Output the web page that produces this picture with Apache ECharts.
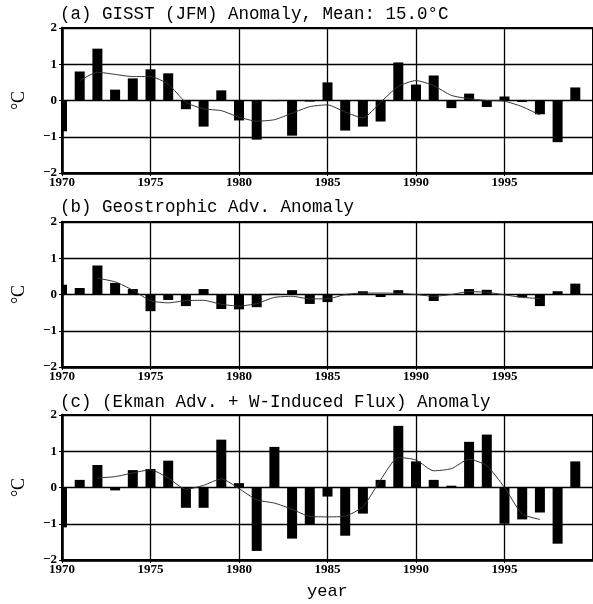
<!DOCTYPE html>
<html>
<head>
<meta charset="utf-8">
<title>anomaly</title>
<script src="https://cdn.jsdelivr.net/npm/echarts@6/dist/echarts.min.js"></script>
<style>
html,body{margin:0;padding:0;background:#fff;}
#container{width:593px;height:604px;}
</style>
</head>
<body>
<div id="container"></div>
<script>
    // years of the bars
    var firstYear = 1970;
    var lastYear = 1999;
    var yTicks = [-2, -1, 0, 1, 2];

    // panel titles
    var titles = [
        '(a) GISST (JFM) Anomaly, Mean: 15.0\u00b0C',
        '(b) Geostrophic Adv. Anomaly',
        '(c) (Ekman Adv. + W-Induced Flux) Anomaly'
    ];

    // yearly anomalies 1970..1999
    var gisst = [-0.85, 0.80, 1.43, 0.30, 0.61, 0.86, 0.75, -0.24, -0.72, 0.28,
                 -0.55, -1.08, -0.02, -0.97, -0.03, 0.50, -0.83, -0.72, -0.58, 1.05,
                 0.44, 0.69, -0.21, 0.19, -0.18, 0.11, -0.04, -0.38, -1.15, 0.36];
    var geo = [0.27, 0.18, 0.80, 0.32, 0.15, -0.46, -0.15, -0.32, 0.15, -0.40,
               -0.41, -0.35, 0.02, 0.12, -0.26, -0.21, -0.02, 0.09, -0.07, 0.12,
               0.01, -0.18, 0.01, 0.15, 0.13, 0.01, -0.08, -0.32, 0.09, 0.30];
    var ekman = [-1.10, 0.21, 0.62, -0.08, 0.48, 0.51, 0.74, -0.56, -0.56, 1.32,
                 0.12, -1.75, 1.12, -1.41, -1.02, -0.25, -1.33, -0.72, 0.21, 1.70,
                 0.72, 0.21, 0.05, 1.26, 1.46, -1.00, -0.88, -0.69, -1.55, 0.72];

    // smoothed curves (first year given separately)
    var gisstSmoothStart = 1971;
    var gisstSmooth = [0.55, 0.78, 0.72, 0.66, 0.66, 0.45, -0.05, -0.23, -0.28, -0.46,
                       -0.57, -0.53, -0.35, -0.17, -0.12, -0.32, -0.48, -0.05, 0.39, 0.55,
                       0.41, 0.14, 0.05, 0.0, -0.02, -0.17, -0.40];
    var geoSmoothStart = 1972;
    var geoSmooth = [0.45, 0.35, 0.12, -0.17, -0.23, -0.17, -0.16, -0.27, -0.32, -0.25,
                     -0.08, -0.05, -0.12, -0.12, 0.0, 0.04, 0.04, 0.03, 0.0, -0.05,
                     0.0, 0.08, 0.06, -0.01, -0.08, -0.11];
    var ekmanSmoothStart = 1972;
    var ekmanSmooth = [0.26, 0.30, 0.40, 0.49, 0.26, -0.05, 0.06, 0.24, -0.03, -0.34,
                       -0.43, -0.60, -0.80, -0.81, -0.79, -0.53, 0.21, 0.83, 0.76, 0.46,
                       0.52, 0.78, 0.60, 0.0, -0.73, -0.88];

    var bars = [gisst, geo, ekman];
    var smooths = [gisstSmooth, geoSmooth, ekmanSmooth];
    var smoothStarts = [gisstSmoothStart, geoSmoothStart, ekmanSmoothStart];

    var tops = [28, 222, 415];
    var titleTops = [5, 198, 393];
    var labelFont = {color: '#000', fontFamily: 'Liberation Serif', fontWeight: 'bold', fontSize: 13};

    function pairs(start, arr){
        return arr.map(function(v, i){ return [start + i, v]; });
    }

    // bar drawn through the axes, cut to the plot frame (1970 bar sits on the left edge)
    function renderBar(params, api){
        var top = api.coord([api.value(0), api.value(1)]);
        var base = api.coord([api.value(0), 0]);
        var w = 10;
        var rect = {
            x: top[0] - w / 2,
            y: Math.min(top[1], base[1]),
            width: w,
            height: Math.abs(base[1] - top[1])
        };
        var cs = params.coordSys;
        var shape = echarts.graphic.clipRectByRect(rect, {x: cs.x, y: cs.y, width: cs.width, height: cs.height});
        return shape && {type: 'rect', shape: shape, style: {fill: '#000'}};
    }

    var option = {
        animation: false,
        backgroundColor: '#fff',
        title: [], grid: [], xAxis: [], yAxis: [], series: [],
        graphic: [{
            type: 'text', left: 307, top: 583,
            style: {text: 'year', font: '17px "Liberation Mono"', fill: '#000'}
        }]
    };

    for (var p = 0; p < 3; p++) {
        option.title.push({
            text: titles[p], left: 60, top: titleTops[p], padding: 0,
            textStyle: {fontFamily: 'Liberation Mono', fontWeight: 'normal', fontSize: 17.5, color: '#000'}
        });
        option.grid.push({
            left: 62, top: tops[p], width: 549.6, height: 145,
            show: true, borderColor: '#000', borderWidth: 2
        });
        option.xAxis.push({
            gridIndex: p, type: 'value', min: firstYear, max: lastYear + 1, interval: 5,
            axisLine: {show: true, onZero: false, lineStyle: {color: '#000', width: 2.5}},
            axisTick: {show: true, length: 3, lineStyle: {color: '#000'}},
            axisLabel: Object.assign({margin: 3, showMaxLabel: false, formatter: function(v){ return String(v); }}, labelFont),
            splitLine: {show: true, lineStyle: {color: '#000', width: 1.3}}
        });
        option.yAxis.push({
            gridIndex: p, type: 'value', min: yTicks[0], max: yTicks[yTicks.length - 1], interval: 1,
            name: '\u00b0C', nameLocation: 'middle', nameGap: 34, nameRotate: 90,
            nameTextStyle: {fontFamily: 'Liberation Serif', fontSize: 18, color: '#000'},
            axisLine: {show: true, onZero: false, lineStyle: {color: '#000', width: 2.5}},
            axisTick: {show: true, length: 3, lineStyle: {color: '#000'}},
            axisLabel: Object.assign({margin: 5, formatter: function(v){ return String(v).replace('-', '\u2212'); }}, labelFont),
            splitLine: {show: true, lineStyle: {color: '#000', width: 1.3}}
        });
        option.series.push({
            type: 'custom', xAxisIndex: p, yAxisIndex: p,
            renderItem: renderBar,
            encode: {x: 0, y: 1},
            data: pairs(firstYear, bars[p])
        });
        option.series.push({
            type: 'line', xAxisIndex: p, yAxisIndex: p, symbol: 'none', smooth: 0.2,
            lineStyle: {color: '#333', width: 1},
            data: pairs(smoothStarts[p], smooths[p])
        });
    }

    var myChart = echarts.init(document.getElementById('container'));
    myChart.setOption(option, true);
</script>
</body>
</html>
